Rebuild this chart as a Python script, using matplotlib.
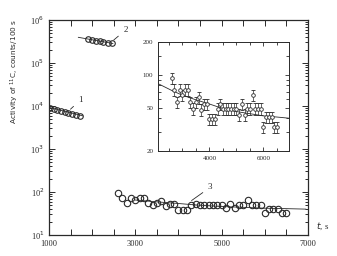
import numpy as np
import matplotlib
matplotlib.use("Agg")
import matplotlib.pyplot as plt
from matplotlib.ticker import LogLocator, MultipleLocator, FixedLocator, NullFormatter, FixedFormatter

# ---- data ----
t1 = [1020, 1105, 1190, 1275, 1360, 1450, 1540, 1630, 1720]
v1 = [9000, 8500, 8100, 7700, 7300, 6950, 6600, 6300, 6000]

t2 = [1900, 1990, 2080, 2170, 2260, 2360, 2450]
v2 = [360000, 345000, 330000, 318000, 305000, 295000, 287000]

t3 = [2600, 2700, 2800, 2900, 3000, 3100, 3200, 3300, 3400, 3500,
      3600, 3700, 3800, 3900, 4000, 4100, 4200, 4300, 4400, 4500,
      4600, 4700, 4800, 4900, 5000, 5100, 5200, 5300, 5400, 5500,
      5600, 5700, 5800, 5900, 6000, 6100, 6200, 6300, 6400, 6500]
v3 = [93, 73, 56, 73, 65, 73, 73, 56, 49, 56,
      62, 48, 54, 54, 39, 39, 39, 49, 54, 49,
      49, 49, 49, 49, 49, 43, 54, 43, 49, 49,
      65, 49, 49, 49, 33, 41, 41, 41, 33, 33]

# fitted curves
fit1_t = [1000, 1780]
fit1_v = [9300, 5900]
fit2_t = [1680, 2480]
fit2_v = [395000, 284000]
fit3_t = [2100, 2600, 3000, 3500, 4000, 4400, 5000, 5500, 6000, 6500, 6950]
fit3_v = [83, 72, 65, 59, 54, 50, 46, 44, 42, 41, 40]

x_labels = ["1000", "3000", "5000", "7000"]
y_labels = ["10$^1$", "10$^2$", "10$^3$", "10$^4$", "10$^5$", "10$^6$"]
inset_y_ticks = [20, 50, 100, 200]
inset_x_ticks = [4000, 6000]

ink = "#2a2a2a"
serif = "Liberation Serif"

fig = plt.figure(figsize=(3.37, 2.56), dpi=100)
ax = fig.add_axes([0.1454, 0.082, 0.7685, 0.840])
ax.set_yscale("log")
ax.set_xlim(1000, 7000)
ax.set_ylim(10, 1e6)

ax.plot(t1, v1, "o", ms=4.0, mfc="none", mec=ink, mew=0.8)
ax.plot(t2, v2, "o", ms=4.0, mfc="none", mec=ink, mew=0.8)
ax.plot(t3, v3, "o", ms=4.6, mfc="none", mec=ink, mew=0.8)
ax.plot(fit1_t, fit1_v, "-", color=ink, lw=0.6)
ax.plot(fit2_t, fit2_v, "-", color=ink, lw=0.6)
ax.plot(fit3_t[2:], fit3_v[2:], "-", color=ink, lw=0.6)

ax.xaxis.set_major_locator(FixedLocator([1000, 3000, 5000, 7000]))
ax.xaxis.set_major_formatter(FixedFormatter(x_labels))
ax.xaxis.set_minor_locator(MultipleLocator(500))
ax.yaxis.set_major_locator(FixedLocator([1e1, 1e2, 1e3, 1e4, 1e5, 1e6]))
ax.yaxis.set_major_formatter(FixedFormatter(y_labels))
ax.yaxis.set_minor_locator(LogLocator(base=10, subs=np.arange(2, 10)))
ax.yaxis.set_minor_formatter(NullFormatter())
ax.tick_params(which="both", direction="in", top=True, right=True, colors=ink,
               labelsize=6, width=0.7)
ax.tick_params(which="major", length=4)
ax.tick_params(which="minor", length=2.2)
ax.tick_params(axis="x", which="minor", length=4)
for lab in ax.get_xticklabels() + ax.get_yticklabels():
    lab.set_family(serif)
for s in ax.spines.values():
    s.set_color(ink)
    s.set_linewidth(0.9)

ax.set_ylabel("Activity of $^{11}$C, counts/100 s", fontsize=5.3, color=ink)
ax.yaxis.set_label_coords(-0.11, 0.76)
ax.text(1.03, 0.04, "$t$, s", transform=ax.transAxes, fontsize=6.5, family=serif,
        color=ink, ha="left", va="center")

# labels with leaders
ax.annotate("1", xy=(1450, 7600), xytext=(1680, 12500), fontsize=6.5, family=serif,
            color=ink, arrowprops=dict(arrowstyle="-", color=ink, lw=0.6))
ax.annotate("2", xy=(2450, 310000), xytext=(2720, 520000), fontsize=6.5, family=serif,
            color=ink, arrowprops=dict(arrowstyle="-", color=ink, lw=0.6))
ax.annotate("3", xy=(4250, 58), xytext=(4680, 115), fontsize=6.5, family=serif,
            color=ink, arrowprops=dict(arrowstyle="-", color=ink, lw=0.6))

# inset
ins = fig.add_axes([0.469, 0.410, 0.389, 0.426])
ins.set_yscale("log")
ins.set_xlim(2100, 6950)
ins.set_ylim(20, 200)
err = [0.12 * v for v in v3]
ins.errorbar(t3, v3, yerr=err, fmt="o", ms=2.6, mfc="white", mec=ink, mew=0.6,
             ecolor=ink, elinewidth=0.5, capsize=1.3, capthick=0.5)
ins.plot(fit3_t, fit3_v, "-", color=ink, lw=0.6)
ins.yaxis.set_major_locator(FixedLocator(inset_y_ticks))
ins.yaxis.set_major_formatter(FixedFormatter([str(v) for v in inset_y_ticks]))
ins.yaxis.set_minor_locator(FixedLocator([30, 40, 60, 70, 80, 90, 150]))
ins.yaxis.set_minor_formatter(NullFormatter())
ins.xaxis.set_major_locator(FixedLocator(inset_x_ticks))
ins.xaxis.set_major_formatter(FixedFormatter([str(v) for v in inset_x_ticks]))
ins.xaxis.set_minor_locator(MultipleLocator(500))
ins.tick_params(which="both", direction="in", top=True, right=True, colors=ink,
                labelsize=5, width=0.6)
ins.tick_params(which="major", length=3)
ins.tick_params(which="minor", length=2)
for lab in ins.get_xticklabels() + ins.get_yticklabels():
    lab.set_family(serif)
for s in ins.spines.values():
    s.set_color(ink)
    s.set_linewidth(0.7)

fig.savefig("out.png", dpi=100, facecolor="white")
